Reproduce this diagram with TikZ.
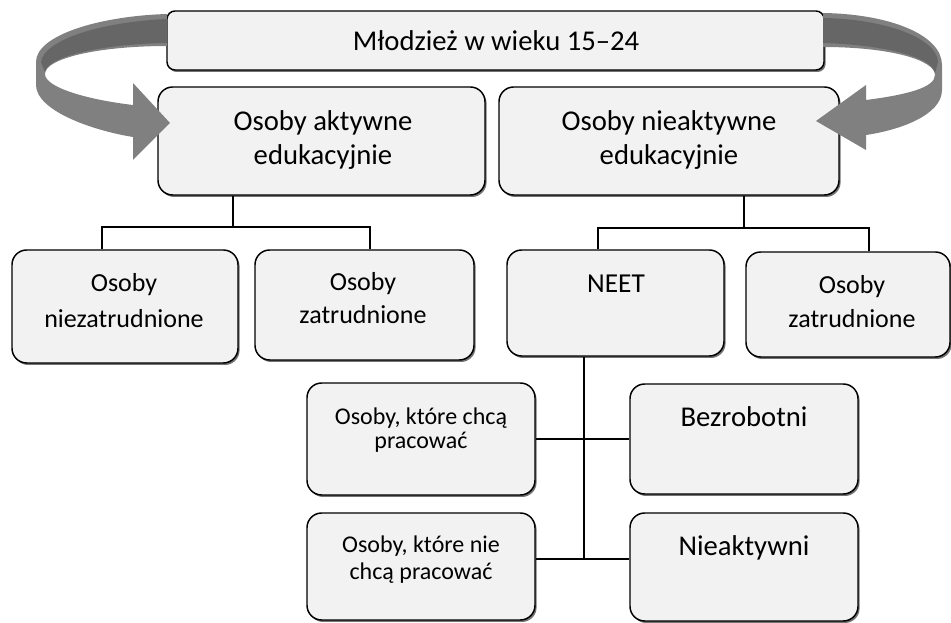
\documentclass[tikz,border=0pt]{standalone}
\usepackage{fontspec}
\setmainfont{Carlito}
\usetikzlibrary{shadows}
\definecolor{boxfill}{RGB}{242,242,242}
\definecolor{arrowgray}{RGB}{128,128,128}
\definecolor{arrowdark}{RGB}{102,102,102}
\tikzset{
  box/.style={draw, line width=1.1pt, fill=boxfill, rounded corners=11pt, inner sep=0pt,
    drop shadow={shadow xshift=1.2pt, shadow yshift=-1.5pt, fill=black!55, opacity=1}},
  conn/.style={line width=1pt},
  txtbig/.style={font=\fontsize{21.5}{25.5}\selectfont, align=center, anchor=base, inner sep=0pt},
  txtmid/.style={font=\fontsize{19.5}{26}\selectfont, align=center, anchor=base, inner sep=0pt},
  txtsmall/.style={font=\fontsize{18}{19.5}\selectfont, align=center, anchor=base, inner sep=0pt}
}
\begin{document}
\begin{tikzpicture}[x=0.75pt,y=0.75pt,yscale=-1,xscale=1]
\useasboundingbox (0,0) rectangle (951,623);

% boxes
\node[box, rounded corners=6pt, minimum width=492.75pt, minimum height=44.25pt] (top) at (495.5,40.5) {};
\node[box, minimum width=245.25pt, minimum height=81pt] (akt) at (321.5,141) {};
\node[box, minimum width=255pt, minimum height=81pt] (niea) at (669,141) {};
\node[box, minimum width=169.5pt, minimum height=84.75pt] (niez) at (125,306.5) {};
\node[box, minimum width=164.25pt, minimum height=82.5pt] (zatl) at (364.5,305) {};
\node[box, minimum width=162.75pt, minimum height=79.5pt] (neet) at (615.5,303) {};
\node[box, minimum width=153pt, minimum height=78.75pt] (zatr) at (848,304.5) {};
\node[box, minimum width=171pt, minimum height=84pt] (chca) at (421,439) {};
\node[box, minimum width=171pt, minimum height=80.25pt] (niechca) at (421,566.5) {};
\node[box, minimum width=171pt, minimum height=82.5pt] (bezr) at (744,439) {};
\node[box, minimum width=171pt, minimum height=81pt] (nieakt) at (744,567) {};

% texts (base = last line)
\node[txtbig] (tTop) at (496,51) {Młodzież w wieku 15–24};
\node[txtbig] (tAkt) at (323,165) {Osoby aktywne\\edukacyjnie};
\node[txtbig] (tNiea) at (669,165) {Osoby nieaktywne\\edukacyjnie};
\node[txtmid] (tNiez) at (124,328) {Osoby\\[1pt]niezatrudnione};
\node[txtmid] (tZatl) at (363,324) {Osoby\\[-1.25pt]zatrudnione};
\node[txtmid, font=\fontsize{20.5}{26}\selectfont] (tNeet) at (616,293) {NEET};
\node[txtmid] (tZatr) at (852,328) {Osoby\\zatrudnione};
\node[txtsmall] (tChca) at (421,449) {Osoby, które chcą\\[-1pt]pracować};
\node[txtsmall] (tNiechca) at (421,580) {Osoby, które nie\\[0.8pt]chcą pracować};
\node[txtbig] (tBezr) at (744,427) {Bezrobotni};
\node[txtbig] (tNieakt) at (744,556) {Nieaktywni};

% connectors
\coordinate (jA) at (233,227);
\coordinate (lA) at (102,227);
\coordinate (rA) at (370,227);
\draw[conn] (akt.south -| jA) -- (jA);
\draw[conn] (niez.north -| lA) -- (lA) -- (rA) -- (zatl.north -| rA);
\coordinate (jB) at (744,228);
\coordinate (lB) at (598,228);
\coordinate (rB) at (869,228);
\draw[conn] (niea.south -| jB) -- (jB);
\draw[conn] (neet.north -| lB) -- (lB) -- (rB) -- (zatr.north -| rB);
\coordinate (jC) at (584,559);
\draw[conn] (neet.south -| jC) -- (jC);
\draw[conn] (chca.east) -- (bezr.west);
\draw[conn] (niechca.east |- jC) -- (nieakt.west |- jC);

% curved arrows
\fill[arrowgray] (167,14) .. controls (100,16) and (36,35) .. (36,62) -- (36,85) .. controls (36,110) and (90,130) .. (133,137) -- (133,160) -- (170,123) -- (133,83) -- (133,105) .. controls (90,100) and (45,88) .. (45,74) .. controls (45,58) and (100,46) .. (167,46) -- cycle;
\fill[arrowdark] (167,19) .. controls (100,22) and (44,40) .. (41,62) -- (45,72) .. controls (47,57) and (100,44) .. (167,43) -- cycle;
\fill[arrowgray] (823,13) .. controls (890,14) and (942,35) .. (942,65) -- (942,90) .. controls (942,115) and (900,130) .. (866,135) -- (866,150) -- (816,121) -- (866,85) -- (866,100) .. controls (905,95) and (935,88) .. (935,75) .. controls (935,60) and (890,47) .. (823,47) -- cycle;
\fill[arrowdark] (823,18) .. controls (885,19) and (937,38) .. (938,62) -- (935,73) .. controls (933,58) and (888,45) .. (823,43) -- cycle;

\end{tikzpicture}
\end{document}
